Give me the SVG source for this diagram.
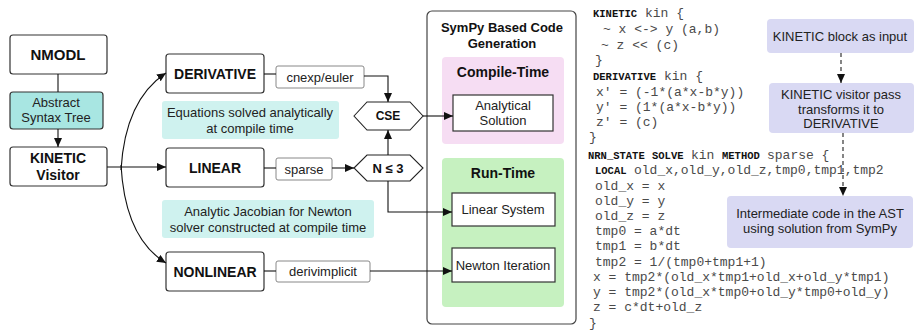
<svg xmlns="http://www.w3.org/2000/svg" width="915" height="331" viewBox="0 0 915 331">
<defs>
<marker id="ah" markerWidth="9" markerHeight="8" refX="9" refY="4" orient="auto" markerUnits="userSpaceOnUse">
<path d="M0,0 L9,4 L0,8 Z" fill="#111"/>
</marker>
<style>
.box{fill:#fff;stroke:#333;stroke-width:1.2}
.small{fill:#fff;stroke:#888;stroke-width:1}
.note{fill:#cff2ef}
.purple{fill:#d9d9f3}
.t{font-family:"Liberation Sans",Arial,sans-serif;font-size:13px;fill:#222;text-anchor:middle}
.b{font-family:"Liberation Sans",Arial,sans-serif;font-size:14px;font-weight:bold;fill:#111;text-anchor:middle}
.ln{fill:none;stroke:#111;stroke-width:1.1}
.dash{fill:none;stroke:#222;stroke-width:1.1;stroke-dasharray:4 3}
.code{font-family:"Liberation Mono","Courier New",monospace;font-size:13px;fill:#4a4a4a}
.code .k{font-weight:bold;fill:#111;font-size:10.5px}
</style>
</defs>

<g id="container">
<rect x="427" y="11" width="149" height="313" rx="5" fill="#fff" stroke="#444" stroke-width="1.2"/>
<text class="b" x="502" y="32" style="font-size:13px">SymPy Based Code</text>
<text class="b" x="502" y="48" style="font-size:13px">Generation</text>
</g>
<g id="compile-time">
<rect x="442" y="57" width="122" height="87" rx="4" fill="#f6ddf3"/>
<text class="b" x="503" y="77">Compile-Time</text>
</g>
<g id="run-time">
<rect x="442" y="158" width="122" height="149" rx="4" fill="#c6f1c0"/>
<text class="b" x="503" y="178">Run-Time</text>
</g>

<g id="nmodl"><rect class="box" x="10" y="35" width="97" height="39" rx="3"/><text class="b" x="58" y="60" style="font-size:15px">NMODL</text></g>
<g id="ast"><rect x="10" y="92" width="93" height="37" rx="3" fill="#a8e6e2" stroke="#333" stroke-width="1.2"/><text class="t" x="56" y="107">Abstract</text><text class="t" x="56" y="122">Syntax Tree</text></g>
<g id="kinetic"><rect class="box" x="10" y="147" width="97" height="39" rx="3"/><text class="b" x="58" y="163">KINETIC</text><text class="b" x="58" y="180">Visitor</text></g>

<g id="derivative"><rect class="box" x="166" y="54" width="98" height="39" rx="3"/><text class="b" x="215" y="79">DERIVATIVE</text></g>
<g id="linear"><rect class="box" x="166" y="148" width="98" height="39" rx="3"/><text class="b" x="215" y="173">LINEAR</text></g>
<g id="nonlinear"><rect class="box" x="166" y="252" width="98" height="39" rx="3"/><text class="b" x="215" y="277">NONLINEAR</text></g>

<g id="note1"><rect class="note" x="162" y="101" width="177" height="38" rx="3"/><text class="t" x="250" y="117">Equations solved analytically</text><text class="t" x="250" y="133">at compile time</text></g>
<g id="note2"><rect class="note" x="162" y="200" width="212" height="38" rx="3"/><text class="t" x="268" y="216">Analytic Jacobian for Newton</text><text class="t" x="268" y="232">solver constructed at compile time</text></g>

<g id="cnexp"><rect class="small" x="276" y="66" width="88" height="22" rx="2"/><text class="t" x="320" y="82">cnexp/euler</text></g>
<g id="sparse"><rect class="small" x="276" y="158" width="56" height="22" rx="2"/><text class="t" x="304" y="174">sparse</text></g>
<g id="derivimplicit"><rect class="small" x="276" y="261" width="94" height="21" rx="2"/><text class="t" x="323" y="276">derivimplicit</text></g>

<g id="cse"><path d="M354,116 L367,102 L410,102 L423,116 L410,130 L367,130 Z" fill="#fff" stroke="#222" stroke-width="1.1"/><text class="b" x="388" y="120" style="font-size:12px">CSE</text></g>
<g id="ncheck"><path d="M354,168 L367,155 L410,155 L423,168 L410,181 L367,181 Z" fill="#fff" stroke="#222" stroke-width="1.1"/><text class="b" x="388" y="173" style="font-size:13px">N ≤ 3</text></g>

<g id="analytical"><rect class="box" x="453" y="95" width="100" height="36"/><text class="t" x="503" y="110">Analytical</text><text class="t" x="503" y="125">Solution</text></g>
<g id="linsys"><rect class="box" x="452" y="193" width="103" height="33"/><text class="t" x="503" y="214">Linear System</text></g>
<g id="newton"><rect class="box" x="452" y="248" width="103" height="34"/><text class="t" x="503" y="270">Newton Iteration</text></g>

<g id="p1"><rect class="purple" x="767" y="19" width="147" height="34" rx="4"/><text class="t" x="840" y="41">KINETIC block as input</text></g>
<g id="p2"><rect class="purple" x="769" y="83" width="145" height="50" rx="4"/><text class="t" x="841" y="99">KINETIC visitor pass</text><text class="t" x="841" y="114">transforms it to</text><text class="t" x="841" y="128">DERIVATIVE</text></g>
<g id="p3"><rect class="purple" x="727" y="196" width="186" height="52" rx="4"/><text class="t" x="820" y="218">Intermediate code in the AST</text><text class="t" x="820" y="233">using solution from SymPy</text></g>

<g id="connectors">
<line class="ln" x1="58" y1="74" x2="58" y2="92"/>
<line class="ln" x1="58" y1="129" x2="58" y2="147" marker-end="url(#ah)"/>
<line class="ln" x1="107" y1="167" x2="166" y2="167" marker-end="url(#ah)"/>
<path class="ln" d="M121,170 Q125,100 166,73" marker-end="url(#ah)"/>
<path class="ln" d="M121,165 Q125,238 166,263" marker-end="url(#ah)"/>
<line class="ln" x1="264" y1="74" x2="276" y2="74"/>
<path class="ln" d="M364,76 H388 V102" marker-end="url(#ah)"/>
<line class="ln" x1="264" y1="168" x2="276" y2="168"/>
<line class="ln" x1="332" y1="168" x2="354" y2="168" marker-end="url(#ah)"/>
<line class="ln" x1="388" y1="155" x2="388" y2="130" marker-end="url(#ah)"/>
<line class="ln" x1="423" y1="116" x2="453" y2="116" marker-end="url(#ah)"/>
<path class="ln" d="M388,181 V212 H452" marker-end="url(#ah)"/>
<line class="ln" x1="264" y1="271" x2="276" y2="271"/>
<line class="ln" x1="370" y1="271" x2="452" y2="271" marker-end="url(#ah)"/>
<line class="dash" x1="841" y1="53" x2="841" y2="83" marker-end="url(#ah)"/>
<line class="dash" x1="843" y1="133" x2="843" y2="196" marker-end="url(#ah)"/>
</g>

<g id="code" class="code">
<text class="k" x="593" y="17">KINETIC</text><text x="645" y="17">kin {</text>
<text x="603" y="33">~ x &lt;-&gt; y (a,b)</text>
<text x="601" y="49">~ z &lt;&lt; (c)</text>
<text x="595" y="64">}</text>
<text class="k" x="593" y="80">DERIVATIVE</text><text x="664" y="80">kin {</text>
<text x="596" y="96">x' = (-1*(a*x-b*y))</text>
<text x="596" y="111">y' = (1*(a*x-b*y))</text>
<text x="596" y="126">z' = (c)</text>
<text x="589" y="141">}</text>
<text class="k" x="588" y="159">NRN_STATE</text><text class="k" x="652" y="159">SOLVE</text><text x="691" y="159">kin</text><text class="k" x="722" y="159">METHOD</text><text x="767" y="159">sparse {</text>
<text class="k" x="595" y="174">LOCAL</text><text x="634" y="174">old_x,old_y,old_z,tmp0,tmp1,tmp2</text>
<text x="595" y="189.5">old_x = x</text>
<text x="595" y="204.7">old_y = y</text>
<text x="595" y="219.9">old_z = z</text>
<text x="595" y="235.1">tmp0 = a*dt</text>
<text x="595" y="250.3">tmp1 = b*dt</text>
<text x="595" y="265.5">tmp2 = 1/(tmp0+tmp1+1)</text>
<text x="593" y="280.7">x = tmp2*(old_x*tmp1+old_x+old_y*tmp1)</text>
<text x="593" y="295.9">y = tmp2*(old_x*tmp0+old_y*tmp0+old_y)</text>
<text x="593" y="311.1">z = c*dt+old_z</text>
<text x="589" y="326.5">}</text>
</g>
</svg>
